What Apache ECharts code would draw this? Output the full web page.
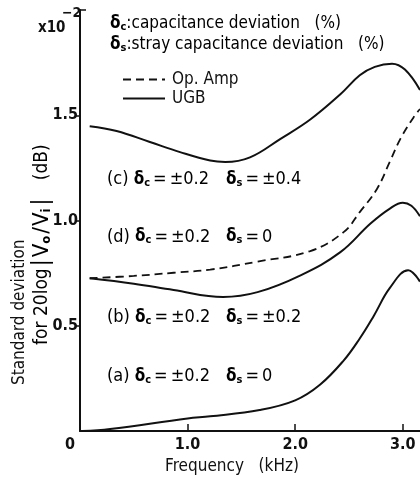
<!DOCTYPE html>
<html>
<head>
<meta charset="utf-8">
<script src="https://cdn.jsdelivr.net/npm/echarts@6/dist/echarts.min.js"></script>
<style>
html,body{margin:0;padding:0;background:#fff;}
#chart{width:420px;height:480px;}
</style>
</head>
<body>
<div id="chart"></div>
<script>
// ---- data (frequency in kHz, std deviation in x10^-2 dB) ----
const freqOpAmp = [0.09, 0.5, 0.87, 1.21, 1.65, 2.14, 2.45, 2.6, 2.76, 2.88, 2.98, 3.1, 3.16];
const valOpAmp  = [0.726, 0.737, 0.752, 0.767, 0.805, 0.855, 0.945, 1.04, 1.15, 1.28, 1.39, 1.49, 1.53];

const freqC = [0.09, 0.34, 0.65, 0.93, 1.21, 1.35, 1.58, 1.86, 2.14, 2.42, 2.6, 2.74, 2.9, 3.02, 3.16];
const valC  = [1.448, 1.425, 1.373, 1.325, 1.285, 1.278, 1.30, 1.387, 1.48, 1.60, 1.69, 1.73, 1.745, 1.717, 1.62];

const freqB = [0.09, 0.5, 0.87, 1.33, 1.65, 2.05, 2.42, 2.7, 2.88, 3.0, 3.08, 3.16];
const valB  = [0.726, 0.70, 0.67, 0.637, 0.66, 0.74, 0.85, 0.986, 1.057, 1.085, 1.07, 1.02];

const freqA = [0.02, 0.28, 1.0, 1.21, 1.67, 2.0, 2.23, 2.45, 2.6, 2.73, 2.88, 3.05, 3.16];
const valA  = [0.0, 0.01, 0.06, 0.07, 0.10, 0.146, 0.22, 0.335, 0.44, 0.547, 0.68, 0.764, 0.71];

const xTickValues = [1, 2, 3];
const xLabelValues = [0, 1, 2, 3];
const yTickValues = [0.5, 1.0, 1.5];

const seriesNames = ['Op. Amp', 'UGB'];

const annotations = [
  {tag: '(c)', dc: '±0.2', ds: '±0.4', y: 1.2},
  {tag: '(d)', dc: '±0.2', ds: '0', y: 0.93},
  {tag: '(b)', dc: '±0.2', ds: '±0.2', y: 0.55},
  {tag: '(a)', dc: '±0.2', ds: '0', y: 0.27}
];

// ---- chart ----
const FONT = "'Liberation Sans Narrow', 'DejaVu Sans Condensed', 'Roboto', sans-serif";
const INK = '#111';
const pairs = (xs, ys) => xs.map((x, i) => [x, ys[i]]);

const richBase = {
  n: {fontSize: 17, fontFamily: FONT, color: INK},
  n2: {fontSize: 19, fontFamily: FONT, color: INK},
  w: {fontSize: 18, fontFamily: FONT, color: INK},
  e: {fontSize: 18, fontFamily: FONT, color: INK, padding: [0, 3, 0, 3]},
  v: {fontSize: 22, fontFamily: FONT, color: INK},
  sl: {fontSize: 22, fontFamily: FONT, color: INK, padding: [0, 1, 0, 1]},
  bar: {fontSize: 23, fontFamily: FONT, color: INK, padding: [0, 2, 0, 2]},
  d: {fontSize: 17, fontFamily: FONT, color: INK, fontWeight: 'bold'},
  s: {fontSize: 11, fontFamily: FONT, color: INK, fontWeight: 'bold', padding: [7, 0, 0, 0]},
  si: {fontSize: 13, fontFamily: FONT, color: INK, fontWeight: 'bold', padding: [9, 1, 0, 0]}
};

const chart = echarts.init(document.getElementById('chart'), null, {renderer: 'canvas'});

const gridLeft = 80, gridTop = 10, gridBottom = 46, gridRight = 0;
const plotH = 480 - gridTop - gridBottom;
const yPix = v => gridTop + plotH * (1 - v / 2);

const graphics = [
  {type: 'text', left: 38, top: 21, style: {text: 'x10', fontSize: 15, fontFamily: FONT, fontWeight: 'bold', fill: INK}},
  {type: 'text', left: 62, top: 6, style: {text: '−2', fontSize: 14, fontFamily: FONT, fontWeight: 'bold', fill: INK}},
  {type: 'text', left: 110, top: 15, style: {text: '{d|δ}{s|c}{n|:capacitance deviation   (%)}', rich: richBase}},
  {type: 'text', left: 110, top: 36, style: {text: '{d|δ}{s|s}{n|:stray capacitance deviation   (%)}', rich: richBase}},
  {type: 'text', x: 20, y: 385, rotation: Math.PI / 2,
   style: {text: 'Standard deviation', fontSize: 17, fontFamily: FONT, fill: INK, align: 'left', verticalAlign: 'middle'}},
  {type: 'text', x: 42, y: 345, rotation: Math.PI / 2,
   style: {text: '{n2|for 20log}{bar||}{v|V}{si|o}{sl|/}{v|V}{si|i}{bar||}{n2|   (dB)}', rich: richBase, align: 'left', verticalAlign: 'middle'}}
];
annotations.forEach(a => {
  const py = yPix(a.y);
  graphics.push({type: 'text', x: 107, y: py,
    style: {text: '{w|' + a.tag + ' }{d|δ}{s|c}{e|=}{w|' + a.dc + '}', rich: richBase, verticalAlign: 'middle'}});
  graphics.push({type: 'text', x: 226, y: py,
    style: {text: '{d|δ}{s|s}{e|=}{w|' + a.ds + '}', rich: richBase, verticalAlign: 'middle'}});
});

const solidStyle = {color: INK, width: 2, type: 'solid'};

chart.setOption({
  animation: false,
  backgroundColor: '#fff',
  grid: {left: gridLeft, right: gridRight, top: gridTop, bottom: gridBottom, containLabel: false},
  legend: {
    data: seriesNames,
    orient: 'vertical',
    left: 117, top: 66,
    itemWidth: 42, itemHeight: 12, itemGap: 2,
    itemStyle: {opacity: 0, borderWidth: 0},
    textStyle: {fontSize: 17, fontFamily: FONT, color: INK, lineHeight: 17, padding: [0, 0, 0, 2]}
  },
  xAxis: {
    type: 'value', min: 0, max: 3.16,
    name: 'Frequency   (kHz)', nameLocation: 'middle', nameGap: 26,
    nameTextStyle: {fontSize: 17, fontFamily: FONT, color: INK, padding: [0, 36, 0, 0]},
    axisLine: {show: true, lineStyle: {color: INK, width: 2}},
    axisTick: {show: true, inside: true, length: 7, customValues: xTickValues, lineStyle: {color: INK, width: 1.5}},
    axisLabel: {
      customValues: xLabelValues, margin: 6,
      fontSize: 16, fontFamily: FONT, fontWeight: 'bold', color: INK,
      formatter: v => v === 0 ? '{z|0}' : v.toFixed(1),
      rich: {z: {fontSize: 16, fontFamily: FONT, fontWeight: 'bold', color: INK, padding: [0, 20, 0, 0]}}
    },
    splitLine: {show: false}
  },
  yAxis: [{
    type: 'value', min: 0, max: 2, interval: 0.5,
    axisLine: {show: true, lineStyle: {color: INK, width: 2}},
    axisTick: {show: true, inside: false, length: 4, customValues: yTickValues, lineStyle: {color: INK, width: 1.5}},
    axisLabel: {customValues: yTickValues, margin: 2, fontSize: 16, fontFamily: FONT, fontWeight: 'bold', color: INK,
      formatter: v => v.toFixed(1)},
    splitLine: {show: false}
  }, {
    type: 'value', min: 0, max: 2, position: 'left',
    axisLine: {show: false},
    axisTick: {show: true, inside: true, length: 6, customValues: [2], lineStyle: {color: INK, width: 1.5}},
    axisLabel: {show: false},
    splitLine: {show: false}
  }],
  graphic: graphics,
  series: [
    {name: 'Op. Amp', type: 'line', data: pairs(freqOpAmp, valOpAmp), smooth: 0.4, symbol: 'none',
     lineStyle: {color: INK, width: 1.8, type: [8, 5]}, itemStyle: {color: INK}, z: 3},
    {name: 'UGB', type: 'line', data: pairs(freqC, valC), smooth: 0.4, symbol: 'none', lineStyle: solidStyle, itemStyle: {color: INK}},
    {name: 'UGB', type: 'line', data: pairs(freqB, valB), smooth: 0.4, symbol: 'none', lineStyle: solidStyle, itemStyle: {color: INK}},
    {name: 'UGB', type: 'line', data: pairs(freqA, valA), smooth: 0.4, symbol: 'none', lineStyle: solidStyle, itemStyle: {color: INK}}
  ]
});
</script>
</body>
</html>
